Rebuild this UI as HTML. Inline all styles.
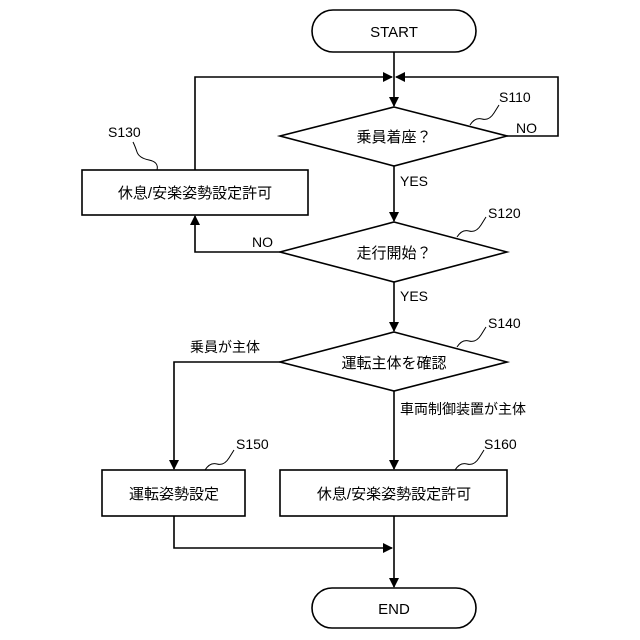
<!DOCTYPE html>
<html><head><meta charset="utf-8"><style>
body{margin:0;background:#fff}
svg{display:block}
text{font-family:"Liberation Sans","Noto Sans CJK JP",sans-serif;fill:#000}
</style></head><body>
<svg width="640" height="640" viewBox="0 0 640 640">
<defs><marker id="a" markerWidth="10" markerHeight="10" refX="9" refY="5" orient="auto" markerUnits="userSpaceOnUse"><path d="M0,0 L10,5 L0,10 z" fill="#000"/></marker></defs>
<g fill="none" stroke="#000" stroke-width="1.6">
<rect x="312" y="10" width="164" height="42" rx="21"/>
<rect x="312" y="588" width="164" height="40" rx="20"/>
<line x1="394" y1="52" x2="394" y2="106" marker-end="url(#a)"/>
<polyline points="195,170 195,77 392,77" marker-end="url(#a)"/>
<polyline points="507,136 558,136 558,77 396,77" marker-end="url(#a)"/>
<polygon points="394,107 507,136 394,166 280,136"/>
<rect x="82" y="170" width="226" height="45"/>
<line x1="394" y1="166" x2="394" y2="221" marker-end="url(#a)"/>
<polygon points="394,222 507,252 394,282 280,252"/>
<polyline points="280,252 195,252 195,216" marker-end="url(#a)"/>
<line x1="394" y1="282" x2="394" y2="331" marker-end="url(#a)"/>
<polygon points="394,332 507,362 394,391 280,362"/>
<polyline points="280,362 174,362 174,469" marker-end="url(#a)"/>
<line x1="394" y1="391" x2="394" y2="469" marker-end="url(#a)"/>
<rect x="102" y="470" width="143" height="46"/>
<rect x="280" y="470" width="227" height="46"/>
<polyline points="174,516 174,548 392,548" marker-end="url(#a)"/>
<line x1="394" y1="516" x2="394" y2="587" marker-end="url(#a)"/>
<g stroke-width="1">
<path d="M470,125 q5,-8 12,-6 t12,-6 t5,-8"/>
<path d="M457,237 q5,-8 12,-6 t12,-6 t5,-8"/>
<path d="M457,347 q5,-8 12,-6 t12,-6 t5,-8"/>
<path d="M205,470 q5,-8 12,-6 t12,-6 t5,-8"/>
<path d="M455,470 q5,-8 12,-6 t12,-6 t5,-8"/>
<path d="M157,170 q2,-8 -8,-10 t-12,-8 t-4,-10"/>
</g>
</g>
<g font-size="15">
<text x="394" y="37" text-anchor="middle">START</text>
<text x="394" y="614" text-anchor="middle">END</text>
<text x="394" y="142" text-anchor="middle">乗員着座？</text>
<text x="394" y="258" text-anchor="middle">走行開始？</text>
<text x="394" y="368" text-anchor="middle">運転主体を確認</text>
<text x="195" y="198" text-anchor="middle">休息/安楽姿勢設定許可</text>
<text x="174" y="499" text-anchor="middle">運転姿勢設定</text>
<text x="394" y="499" text-anchor="middle">休息/安楽姿勢設定許可</text>
</g>
<g font-size="14">
<text x="499" y="102">S110</text>
<text x="488" y="218">S120</text>
<text x="488" y="328">S140</text>
<text x="236" y="449">S150</text>
<text x="484" y="449">S160</text>
<text x="108" y="137">S130</text>
<text x="516" y="133">NO</text>
<text x="252" y="247">NO</text>
<text x="400" y="186">YES</text>
<text x="400" y="301">YES</text>
<text x="190" y="352">乗員が主体</text>
<text x="400" y="414">車両制御装置が主体</text>
</g>
</svg>
</body></html>
